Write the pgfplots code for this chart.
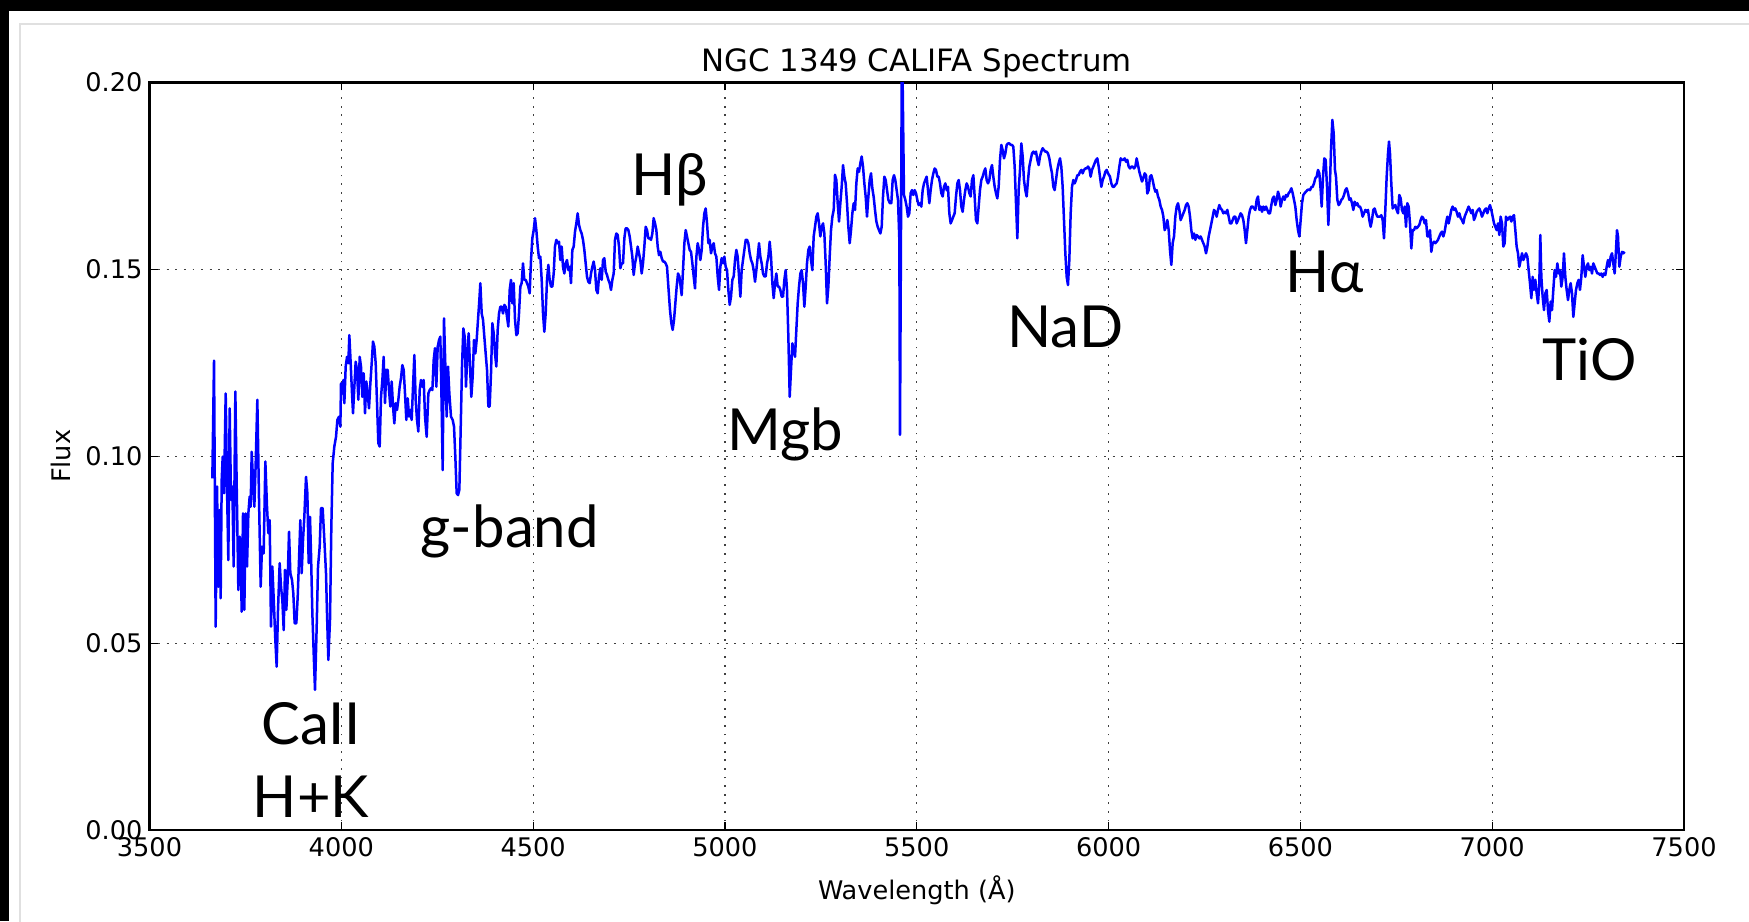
\documentclass[border=0pt]{standalone}
\usepackage{fontspec}
\setmainfont{DejaVu Sans}
\newfontfamily\gill{Lato}
\usepackage{pgfplots}
\pgfplotsset{compat=1.18}
\begin{document}
\begin{tikzpicture}[x=1pt,y=1pt]
\useasboundingbox (0,0) rectangle (874.5,460.5);
\fill[black] (0,0) rectangle (874.5,460.5);
\fill[white] (4.5,0) rectangle (874.5,455);
\draw[black!12,line width=0.6pt] (10,-2) -- (10,448.5) -- (880,448.5);
\begin{axis}[
  at={(74.75pt,45.5pt)}, anchor=south west,
  width=767.25pt, height=373.75pt, scale only axis,
  xmin=3500, xmax=7500, ymin=0, ymax=0.2,
  xtick={3500,4000,4500,5000,5500,6000,6500,7000,7500},
  ytick={0,0.05,0.1,0.15,0.2},
  scaled y ticks=false, scaled x ticks=false,
  tick align=inside, major tick length=4pt,
  tick style={black, line width=0.6pt},
  axis line style={black, line width=1.1pt},
  grid=major,
  major grid style={black!75, line width=0.6pt, dash pattern=on 0.9pt off 3.4pt},
  /pgf/number format/assume math mode=true,
  tick label style={font=\fontsize{12.8}{15}\selectfont},
  x tick label style={/pgf/number format/.cd, 1000 sep={}},
  y tick label style={/pgf/number format/.cd, fixed, fixed zerofill, precision=2},
  title={NGC 1349 CALIFA Spectrum},
  title style={font=\fontsize{15.4}{18}\selectfont, at={(axis description cs:0.5,1)}, anchor=base, yshift=-0.5pt},
  xlabel={Wavelength (Å)},
  xlabel style={font=\fontsize{12.8}{15}\selectfont, at={(axis description cs:0.5,0)}, anchor=base, yshift=-34.5pt},
  ylabel={Flux},
  ylabel style={font=\fontsize{12.8}{15}\selectfont, at={(axis description cs:-0.0577,0.5)}, anchor=center},
]
\addplot[blue, line width=1.25pt, line join=round, mark=none] coordinates {
(3663.8,0.0941)(3668.2,0.1256)(3672.5,0.0544)(3676.0,0.0919)(3679.5,0.0651)(3682.9,0.0856)(3685.5,0.0620)(3688.2,0.0937)
(3690.8,0.0999)(3694.2,0.0901)(3698.6,0.1168)(3702.0,0.0919)(3705.5,0.0722)(3709.0,0.1128)(3712.5,0.0883)(3716.0,0.0919)
(3719.4,0.0705)(3723.8,0.1173)(3727.2,0.0928)(3731.6,0.0642)(3735.1,0.0785)(3737.7,0.0740)(3740.3,0.0584)(3743.8,0.0847)
(3747.2,0.0589)(3750.7,0.0847)(3754.2,0.0705)(3757.7,0.0847)(3761.1,0.0892)(3763.7,0.0865)(3766.4,0.1012)(3769.8,0.0937)
(3773.3,0.0865)(3776.8,0.0981)(3781.1,0.1151)(3785.5,0.0883)(3789.8,0.0651)(3793.3,0.0758)(3797.6,0.0740)(3802.0,0.0986)
(3806.3,0.0865)(3809.8,0.0794)(3813.3,0.0829)(3816.7,0.0544)(3820.2,0.0705)(3824.6,0.0598)(3828.0,0.0508)(3831.5,0.0437)
(3835.0,0.0589)(3839.3,0.0714)(3842.8,0.0651)(3846.3,0.0615)(3849.8,0.0535)(3853.2,0.0696)(3856.7,0.0589)(3860.2,0.0669)
(3863.7,0.0798)(3867.1,0.0687)(3871.5,0.0669)(3874.9,0.0633)(3878.4,0.0553)(3882.8,0.0553)(3886.3,0.0624)(3889.7,0.0722)
(3893.2,0.0829)(3896.7,0.0687)(3900.2,0.0776)(3903.6,0.0838)(3908.0,0.0945)(3911.5,0.0901)(3914.9,0.0714)(3918.4,0.0838)
(3921.0,0.0740)(3924.5,0.0580)(3928.0,0.0473)(3931.4,0.0375)(3935.8,0.0544)(3939.3,0.0705)(3943.6,0.0758)(3947.1,0.0861)
(3951.4,0.0861)(3955.8,0.0776)(3960.1,0.0687)(3962.7,0.0580)(3966.2,0.0455)(3970.5,0.0562)(3974.0,0.0812)(3977.5,0.0981)
(3981.8,0.1026)(3986.2,0.1052)(3989.7,0.1097)(3994.0,0.1106)(3997.5,0.1079)(3999.2,0.1195)(4002.7,0.1168)(4005.3,0.1204)
(4007.9,0.1142)(4011.4,0.1240)(4014.9,0.1266)(4018.3,0.1249)(4020.9,0.1324)(4024.4,0.1249)(4027.9,0.1168)(4030.5,0.1115)
(4034.0,0.1186)(4037.4,0.1253)(4040.9,0.1231)(4044.4,0.1151)(4047.9,0.1266)(4051.3,0.1240)(4054.8,0.1159)(4058.3,0.1222)
(4061.8,0.1115)(4065.2,0.1200)(4068.7,0.1168)(4072.2,0.1128)(4075.7,0.1195)(4079.2,0.1249)(4082.6,0.1307)(4086.1,0.1293)
(4089.6,0.1249)(4093.1,0.1142)(4096.5,0.1035)(4100.0,0.1026)(4103.5,0.1159)(4107.0,0.1204)(4110.4,0.1266)(4113.9,0.1142)
(4117.4,0.1231)(4120.9,0.1231)(4124.3,0.1177)(4127.8,0.1133)(4131.3,0.1200)(4134.8,0.1133)(4138.2,0.1088)(4141.7,0.1142)
(4145.2,0.1124)(4148.7,0.1151)(4152.1,0.1186)(4155.6,0.1209)(4159.1,0.1244)(4162.6,0.1231)(4166.0,0.1168)(4169.5,0.1097)
(4173.0,0.1155)(4176.5,0.1106)(4179.9,0.1124)(4183.4,0.1097)(4186.9,0.1186)(4190.4,0.1271)(4193.8,0.1151)(4197.3,0.1097)
(4200.8,0.1066)(4204.3,0.1177)(4207.7,0.1204)(4211.2,0.1186)(4214.7,0.1204)(4218.2,0.1106)(4222.5,0.1052)(4226.9,0.1168)
(4230.3,0.1177)(4233.8,0.1182)(4237.3,0.1177)(4240.8,0.1258)(4244.2,0.1289)(4247.7,0.1186)(4251.2,0.1293)(4254.7,0.1311)
(4258.1,0.1320)(4261.6,0.1133)(4264.2,0.0963)(4267.7,0.1369)(4271.2,0.1240)(4274.6,0.1106)(4278.1,0.1240)(4281.6,0.1168)
(4285.9,0.1106)(4290.3,0.1097)(4293.8,0.1079)(4297.2,0.0999)(4300.7,0.0901)(4304.2,0.0896)(4307.7,0.0910)(4311.1,0.1070)
(4314.6,0.1240)(4318.1,0.1342)(4321.6,0.1320)(4325.0,0.1186)(4328.5,0.1275)(4332.0,0.1329)(4335.5,0.1240)(4338.9,0.1159)
(4342.4,0.1213)(4345.9,0.1311)(4349.4,0.1275)(4352.8,0.1311)(4356.3,0.1365)(4359.8,0.1418)(4362.4,0.1463)(4365.9,0.1382)
(4369.4,0.1365)(4372.8,0.1320)(4376.3,0.1275)(4379.8,0.1231)(4383.3,0.1133)(4386.7,0.1133)(4390.2,0.1222)(4393.7,0.1356)
(4397.2,0.1329)(4400.6,0.1275)(4404.1,0.1240)(4407.6,0.1338)(4411.1,0.1382)(4414.5,0.1400)(4418.0,0.1400)(4421.5,0.1382)
(4425.0,0.1405)(4428.4,0.1400)(4431.9,0.1373)(4435.4,0.1347)(4438.9,0.1445)(4442.3,0.1472)(4445.8,0.1409)(4449.3,0.1463)
(4452.8,0.1365)(4456.3,0.1324)(4459.7,0.1329)(4463.2,0.1382)(4466.7,0.1454)(4470.1,0.1463)(4473.6,0.1516)(4477.1,0.1472)
(4480.6,0.1472)(4484.1,0.1463)(4487.5,0.1454)(4491.0,0.1436)(4494.5,0.1525)(4497.9,0.1583)(4501.4,0.1605)(4504.9,0.1637)
(4508.4,0.1605)(4511.9,0.1561)(4515.3,0.1530)(4518.8,0.1534)(4522.3,0.1472)(4525.8,0.1382)(4529.2,0.1333)(4532.7,0.1382)
(4536.2,0.1472)(4539.7,0.1512)(4543.1,0.1472)(4546.6,0.1454)(4550.1,0.1454)(4553.6,0.1489)(4557.0,0.1561)(4560.5,0.1579)
(4564.0,0.1570)(4567.5,0.1574)(4570.9,0.1525)(4574.4,0.1561)(4577.9,0.1507)(4581.4,0.1489)(4584.8,0.1516)(4588.3,0.1525)
(4591.8,0.1498)(4595.3,0.1507)(4598.7,0.1463)(4602.2,0.1552)(4605.7,0.1561)(4609.2,0.1601)(4612.6,0.1623)(4616.1,0.1650)
(4619.6,0.1619)(4623.1,0.1605)(4626.5,0.1596)(4630.0,0.1579)(4633.5,0.1552)(4637.0,0.1516)(4640.5,0.1480)(4643.9,0.1467)
(4647.4,0.1463)(4650.9,0.1489)(4654.4,0.1507)(4657.8,0.1521)(4661.3,0.1498)(4664.8,0.1445)(4668.3,0.1436)(4671.7,0.1480)
(4675.2,0.1503)(4678.7,0.1472)(4682.2,0.1525)(4685.6,0.1530)(4689.1,0.1494)(4692.6,0.1485)(4696.1,0.1472)(4699.5,0.1463)
(4703.0,0.1445)(4706.5,0.1472)(4710.0,0.1489)(4713.4,0.1579)(4716.9,0.1596)(4720.4,0.1592)(4723.9,0.1561)(4727.3,0.1503)
(4730.8,0.1516)(4734.3,0.1516)(4737.8,0.1583)(4741.2,0.1610)(4744.7,0.1610)(4748.2,0.1605)(4751.7,0.1588)(4755.2,0.1561)
(4758.6,0.1534)(4762.1,0.1485)(4765.6,0.1516)(4769.0,0.1534)(4772.5,0.1561)(4776.0,0.1543)(4779.5,0.1525)(4783.0,0.1489)
(4786.4,0.1516)(4789.9,0.1561)(4793.4,0.1614)(4796.9,0.1605)(4800.3,0.1583)(4803.8,0.1583)(4807.3,0.1579)(4810.8,0.1596)
(4814.2,0.1637)(4817.7,0.1623)(4821.2,0.1605)(4824.7,0.1561)(4828.1,0.1538)(4831.6,0.1547)(4835.1,0.1530)(4838.6,0.1521)
(4842.0,0.1521)(4845.5,0.1516)(4849.0,0.1507)(4852.5,0.1454)(4856.8,0.1391)(4860.3,0.1356)(4863.8,0.1338)(4867.3,0.1365)
(4870.7,0.1409)(4874.2,0.1454)(4877.7,0.1489)(4881.2,0.1481)(4884.6,0.1454)(4887.2,0.1431)(4890.7,0.1498)(4894.2,0.1570)
(4897.7,0.1605)(4901.1,0.1588)(4904.6,0.1570)(4908.1,0.1552)(4911.6,0.1547)(4915.1,0.1516)(4918.5,0.1481)(4922.0,0.1449)
(4925.5,0.1534)(4929.0,0.1570)(4932.4,0.1552)(4935.9,0.1525)(4939.4,0.1552)(4942.9,0.1614)(4946.3,0.1650)(4949.8,0.1663)
(4953.3,0.1623)(4956.8,0.1570)(4960.2,0.1579)(4963.7,0.1543)(4967.2,0.1561)(4970.7,0.1570)(4974.1,0.1543)(4977.6,0.1534)
(4981.1,0.1481)(4984.6,0.1445)(4988.0,0.1507)(4991.5,0.1530)(4995.0,0.1516)(4998.5,0.1534)(5001.9,0.1507)(5005.4,0.1498)
(5008.9,0.1445)(5012.4,0.1405)(5015.8,0.1427)(5019.3,0.1472)(5022.8,0.1481)(5026.3,0.1525)(5029.7,0.1552)(5033.2,0.1534)
(5036.7,0.1481)(5040.2,0.1427)(5043.6,0.1498)(5047.1,0.1525)(5050.6,0.1552)(5054.1,0.1579)(5057.6,0.1579)(5061.0,0.1570)
(5064.5,0.1543)(5068.0,0.1525)(5071.5,0.1516)(5074.9,0.1498)(5078.4,0.1467)(5081.9,0.1498)(5085.4,0.1534)(5088.8,0.1570)
(5092.3,0.1534)(5095.8,0.1516)(5099.3,0.1489)(5102.7,0.1481)(5106.2,0.1481)(5109.7,0.1516)(5113.2,0.1534)(5116.6,0.1574)
(5120.1,0.1534)(5123.6,0.1463)(5127.1,0.1423)(5130.5,0.1463)(5134.0,0.1489)(5137.5,0.1454)(5141.0,0.1454)(5144.4,0.1445)
(5147.9,0.1427)(5151.4,0.1427)(5154.9,0.1472)(5158.3,0.1498)(5161.8,0.1445)(5165.3,0.1320)(5168.8,0.1159)(5172.2,0.1231)
(5175.7,0.1302)(5179.2,0.1284)(5182.7,0.1266)(5186.1,0.1338)(5189.6,0.1409)(5193.1,0.1454)(5196.6,0.1489)(5200.0,0.1498)
(5203.5,0.1463)(5207.0,0.1400)(5210.5,0.1454)(5213.9,0.1516)(5217.4,0.1552)(5220.9,0.1561)(5224.4,0.1525)(5227.8,0.1498)
(5231.3,0.1588)(5234.8,0.1614)(5238.3,0.1641)(5241.7,0.1650)(5245.2,0.1623)(5248.7,0.1588)(5252.2,0.1614)(5255.7,0.1623)
(5259.1,0.1596)(5262.6,0.1516)(5266.1,0.1409)(5269.6,0.1454)(5273.0,0.1534)(5276.5,0.1605)(5280.0,0.1641)(5283.5,0.1659)
(5286.9,0.1753)(5290.4,0.1739)(5293.9,0.1677)(5297.4,0.1628)(5300.8,0.1677)(5304.3,0.1721)(5307.8,0.1779)(5311.3,0.1748)
(5314.7,0.1730)(5318.2,0.1677)(5321.7,0.1614)(5325.2,0.1570)(5328.6,0.1605)(5332.1,0.1650)(5335.6,0.1677)(5339.1,0.1659)
(5342.5,0.1730)(5346.0,0.1770)(5349.5,0.1761)(5353.0,0.1784)(5356.4,0.1802)(5359.9,0.1775)(5363.4,0.1730)(5366.9,0.1694)
(5370.3,0.1641)(5373.8,0.1694)(5377.3,0.1739)(5380.8,0.1757)(5384.2,0.1717)(5387.7,0.1694)(5391.2,0.1659)(5394.7,0.1628)
(5398.1,0.1614)(5401.6,0.1605)(5405.1,0.1596)(5408.6,0.1614)(5412.0,0.1694)(5415.5,0.1748)(5419.0,0.1739)(5422.5,0.1712)
(5425.9,0.1686)(5430.2,0.1677)(5433.7,0.1677)(5437.2,0.1739)(5440.7,0.1752)(5444.1,0.1739)(5447.6,0.1712)(5451.1,0.1686)
(5454.6,0.1579)(5456.3,0.1057)(5461.5,0.2150)(5466.7,0.1699)(5470.2,0.1686)(5473.7,0.1668)(5477.2,0.1641)(5480.6,0.1650)
(5484.1,0.1704)(5487.6,0.1712)(5491.1,0.1699)(5494.5,0.1712)(5498.0,0.1704)(5501.5,0.1686)(5505.0,0.1672)(5508.4,0.1677)
(5511.9,0.1668)(5515.4,0.1712)(5518.9,0.1730)(5522.3,0.1739)(5525.8,0.1748)(5529.3,0.1712)(5532.8,0.1677)(5536.2,0.1712)
(5539.7,0.1739)(5543.2,0.1757)(5546.7,0.1770)(5550.1,0.1766)(5553.6,0.1748)(5557.1,0.1748)(5560.6,0.1730)(5564.0,0.1704)
(5567.5,0.1695)(5571.0,0.1721)(5574.5,0.1730)(5577.9,0.1712)(5581.4,0.1721)(5584.9,0.1650)(5588.4,0.1623)(5591.9,0.1632)
(5595.3,0.1641)(5598.8,0.1650)(5602.3,0.1695)(5605.8,0.1730)(5609.2,0.1739)(5612.7,0.1712)(5616.2,0.1668)(5619.7,0.1654)
(5623.1,0.1686)(5626.6,0.1712)(5630.1,0.1730)(5633.6,0.1721)(5637.0,0.1704)(5640.5,0.1695)(5644.0,0.1739)(5647.5,0.1752)
(5650.9,0.1695)(5654.4,0.1632)(5657.9,0.1623)(5661.4,0.1668)(5664.8,0.1712)(5668.3,0.1739)(5671.8,0.1748)(5675.3,0.1761)
(5678.7,0.1770)(5682.2,0.1739)(5685.7,0.1730)(5689.2,0.1739)(5692.6,0.1766)(5696.1,0.1779)(5699.6,0.1748)(5703.1,0.1721)
(5706.5,0.1704)(5710.0,0.1690)(5713.5,0.1721)(5717.0,0.1793)(5720.4,0.1833)(5723.9,0.1819)(5727.4,0.1797)(5730.9,0.1810)
(5734.4,0.1833)(5737.8,0.1837)(5741.3,0.1837)(5744.8,0.1833)(5748.3,0.1833)(5751.7,0.1828)(5755.2,0.1775)(5758.7,0.1677)
(5762.2,0.1583)(5765.6,0.1712)(5769.1,0.1766)(5772.6,0.1837)(5776.1,0.1802)(5779.5,0.1739)(5783.0,0.1712)(5786.5,0.1695)
(5790.0,0.1739)(5793.4,0.1775)(5796.9,0.1793)(5800.4,0.1810)(5803.9,0.1815)(5807.3,0.1810)(5810.8,0.1815)(5814.3,0.1793)
(5817.8,0.1779)(5821.2,0.1802)(5824.7,0.1815)(5828.2,0.1824)(5831.7,0.1819)(5835.1,0.1815)(5838.6,0.1815)(5842.1,0.1810)
(5845.6,0.1797)(5849.0,0.1775)(5852.5,0.1757)(5856.0,0.1721)(5859.5,0.1712)(5862.9,0.1739)(5866.4,0.1766)(5869.9,0.1784)
(5873.4,0.1797)(5876.8,0.1775)(5880.3,0.1721)(5883.8,0.1632)(5887.3,0.1543)(5890.8,0.1480)(5894.2,0.1458)(5897.7,0.1525)
(5901.2,0.1650)(5904.7,0.1721)(5908.1,0.1739)(5911.6,0.1730)(5915.1,0.1739)(5918.6,0.1752)(5922.0,0.1752)(5925.5,0.1761)
(5929.0,0.1766)(5932.5,0.1757)(5935.9,0.1766)(5939.4,0.1770)(5942.9,0.1770)(5946.4,0.1775)(5949.8,0.1770)(5953.3,0.1748)
(5956.8,0.1766)(5960.3,0.1775)(5963.7,0.1784)(5967.2,0.1793)(5970.7,0.1797)(5974.2,0.1775)(5977.6,0.1748)(5981.1,0.1721)
(5984.6,0.1739)(5988.1,0.1748)(5991.5,0.1761)(5995.0,0.1766)(5998.5,0.1757)(6003.7,0.1748)(6007.2,0.1730)(6010.7,0.1721)
(6014.2,0.1721)(6017.6,0.1726)(6021.1,0.1730)(6024.6,0.1748)(6028.1,0.1775)(6031.5,0.1797)(6035.0,0.1793)(6038.5,0.1793)
(6042.0,0.1797)(6045.4,0.1788)(6048.9,0.1793)(6052.4,0.1775)(6055.9,0.1770)(6059.3,0.1775)(6062.8,0.1775)(6066.3,0.1770)
(6069.8,0.1775)(6073.2,0.1797)(6076.7,0.1779)(6080.2,0.1761)(6083.7,0.1748)(6087.1,0.1735)(6090.6,0.1744)(6094.1,0.1757)
(6097.6,0.1752)(6101.0,0.1703)(6104.5,0.1712)(6108.0,0.1748)(6111.5,0.1752)(6114.9,0.1739)(6118.4,0.1721)(6121.9,0.1708)
(6125.4,0.1712)(6128.9,0.1695)(6132.3,0.1686)(6135.8,0.1668)(6139.3,0.1659)(6142.8,0.1641)(6146.2,0.1605)(6149.7,0.1614)
(6153.2,0.1632)(6156.7,0.1605)(6160.1,0.1552)(6163.6,0.1512)(6167.1,0.1570)(6170.6,0.1588)(6174.0,0.1641)(6177.5,0.1668)
(6181.0,0.1677)(6184.5,0.1659)(6187.9,0.1632)(6191.4,0.1641)(6194.9,0.1650)(6198.4,0.1659)(6201.8,0.1672)(6205.3,0.1677)
(6208.8,0.1668)(6212.3,0.1641)(6215.7,0.1605)(6219.2,0.1583)(6222.7,0.1596)(6226.2,0.1579)(6229.6,0.1592)(6233.1,0.1588)
(6236.6,0.1583)(6240.1,0.1588)(6243.5,0.1579)(6247.0,0.1570)(6250.5,0.1561)(6254.0,0.1543)(6257.5,0.1561)(6260.9,0.1588)
(6264.4,0.1605)(6267.9,0.1623)(6271.4,0.1641)(6274.8,0.1659)(6278.3,0.1654)(6281.8,0.1641)(6285.3,0.1659)(6288.7,0.1672)
(6292.2,0.1663)(6295.7,0.1659)(6299.2,0.1650)(6302.6,0.1654)(6306.1,0.1650)(6309.6,0.1659)(6313.1,0.1641)(6316.5,0.1623)
(6320.0,0.1623)(6323.5,0.1632)(6327.0,0.1641)(6330.4,0.1641)(6333.9,0.1623)(6337.4,0.1632)(6340.9,0.1641)(6344.3,0.1650)
(6347.8,0.1645)(6351.3,0.1632)(6354.8,0.1605)(6358.2,0.1570)(6361.7,0.1605)(6365.2,0.1641)(6368.7,0.1659)(6372.2,0.1668)
(6375.6,0.1668)(6379.1,0.1663)(6382.6,0.1659)(6386.1,0.1686)(6389.5,0.1695)(6393.0,0.1659)(6396.5,0.1668)(6400.0,0.1654)
(6403.4,0.1668)(6406.9,0.1659)(6410.4,0.1668)(6413.9,0.1659)(6417.3,0.1650)(6420.8,0.1650)(6424.3,0.1672)(6427.8,0.1690)
(6431.2,0.1695)(6434.7,0.1672)(6438.2,0.1686)(6441.7,0.1708)(6445.1,0.1695)(6448.6,0.1668)(6452.1,0.1686)(6455.6,0.1695)
(6459.0,0.1686)(6462.5,0.1699)(6466.0,0.1695)(6469.5,0.1704)(6472.9,0.1708)(6476.4,0.1717)(6479.9,0.1704)(6483.4,0.1686)
(6486.8,0.1668)(6490.3,0.1632)(6493.8,0.1605)(6497.3,0.1588)(6500.7,0.1632)(6504.2,0.1677)(6507.7,0.1699)(6511.2,0.1704)
(6514.6,0.1708)(6518.1,0.1712)(6521.6,0.1714)(6525.1,0.1712)(6528.6,0.1720)(6532.0,0.1721)(6535.5,0.1730)(6539.0,0.1744)
(6542.5,0.1748)(6545.9,0.1766)(6549.4,0.1757)(6552.9,0.1712)(6555.5,0.1668)(6559.0,0.1748)(6562.4,0.1797)(6565.9,0.1793)
(6569.4,0.1721)(6572.9,0.1619)(6576.3,0.1704)(6579.8,0.1819)(6583.3,0.1900)(6586.8,0.1864)(6590.2,0.1766)(6592.8,0.1748)
(6596.3,0.1686)(6599.8,0.1672)(6603.2,0.1677)(6606.7,0.1686)(6610.2,0.1690)(6613.7,0.1699)(6617.1,0.1712)(6620.6,0.1717)
(6624.1,0.1704)(6627.6,0.1686)(6631.0,0.1690)(6634.5,0.1677)(6638.0,0.1659)(6641.5,0.1681)(6644.9,0.1672)(6648.4,0.1677)
(6651.9,0.1668)(6655.4,0.1668)(6658.8,0.1659)(6662.3,0.1641)(6665.8,0.1650)(6669.3,0.1659)(6672.7,0.1654)(6676.2,0.1659)
(6679.7,0.1632)(6683.2,0.1614)(6686.6,0.1632)(6690.1,0.1659)(6693.6,0.1663)(6697.1,0.1650)(6700.5,0.1641)(6704.0,0.1641)
(6707.5,0.1641)(6711.0,0.1645)(6714.5,0.1632)(6717.9,0.1583)(6721.4,0.1659)(6724.9,0.1748)(6728.4,0.1810)(6731.0,0.1842)
(6733.6,0.1810)(6737.0,0.1730)(6740.5,0.1663)(6744.0,0.1668)(6747.5,0.1672)(6750.9,0.1659)(6754.4,0.1650)(6757.9,0.1699)
(6761.4,0.1690)(6764.8,0.1659)(6768.3,0.1650)(6771.8,0.1668)(6775.3,0.1614)(6778.7,0.1677)(6782.2,0.1668)(6785.7,0.1623)
(6789.2,0.1556)(6792.6,0.1605)(6796.1,0.1605)(6799.6,0.1614)(6803.1,0.1610)(6806.5,0.1614)(6810.0,0.1619)(6813.5,0.1632)
(6817.0,0.1641)(6820.5,0.1637)(6823.9,0.1623)(6827.4,0.1632)(6830.9,0.1588)(6834.4,0.1588)(6837.8,0.1605)(6841.3,0.1547)
(6844.8,0.1570)(6848.3,0.1574)(6851.7,0.1570)(6855.2,0.1574)(6858.7,0.1579)(6862.2,0.1588)(6865.6,0.1596)(6869.1,0.1601)
(6872.6,0.1588)(6876.1,0.1601)(6879.5,0.1623)(6883.0,0.1641)(6886.5,0.1623)(6890.0,0.1641)(6893.4,0.1659)(6896.9,0.1668)
(6900.4,0.1659)(6903.9,0.1663)(6907.3,0.1654)(6910.8,0.1641)(6914.3,0.1650)(6917.8,0.1637)(6921.2,0.1632)(6924.7,0.1623)
(6928.2,0.1641)(6931.7,0.1650)(6935.1,0.1659)(6938.6,0.1668)(6942.1,0.1659)(6945.6,0.1650)(6949.1,0.1659)(6952.5,0.1632)
(6956.0,0.1641)(6959.5,0.1654)(6963.0,0.1659)(6966.4,0.1663)(6969.9,0.1654)(6973.4,0.1641)(6976.9,0.1650)(6980.3,0.1659)
(6983.8,0.1663)(6987.3,0.1650)(6990.8,0.1663)(6994.2,0.1672)(6997.7,0.1659)(7001.2,0.1641)(7004.7,0.1623)(7008.1,0.1614)
(7011.6,0.1605)(7015.1,0.1623)(7018.6,0.1592)(7022.0,0.1641)(7025.5,0.1623)(7029.0,0.1561)(7032.5,0.1570)(7035.9,0.1641)
(7039.4,0.1632)(7042.9,0.1637)(7046.4,0.1641)(7049.8,0.1628)(7053.3,0.1641)(7056.8,0.1645)(7060.3,0.1605)(7063.7,0.1561)
(7067.2,0.1543)(7070.7,0.1507)(7074.2,0.1525)(7077.7,0.1543)(7081.1,0.1525)(7084.6,0.1534)(7088.1,0.1543)(7091.6,0.1534)
(7095.0,0.1498)(7098.5,0.1463)(7102.0,0.1423)(7105.5,0.1480)(7108.9,0.1445)(7112.4,0.1472)(7115.9,0.1436)(7119.4,0.1409)
(7122.8,0.1463)(7125.4,0.1592)(7128.1,0.1480)(7131.5,0.1427)(7135.0,0.1391)(7138.5,0.1436)(7142.0,0.1445)(7145.4,0.1391)
(7148.9,0.1360)(7152.4,0.1414)(7155.9,0.1391)(7159.3,0.1445)(7162.8,0.1498)(7166.3,0.1480)(7169.8,0.1516)(7173.2,0.1489)
(7176.7,0.1498)(7180.2,0.1454)(7183.7,0.1480)(7187.1,0.1543)(7190.6,0.1480)(7194.1,0.1445)(7197.6,0.1418)(7201.0,0.1445)
(7204.5,0.1463)(7208.0,0.1436)(7211.5,0.1373)(7214.9,0.1409)(7218.4,0.1445)(7221.9,0.1463)(7225.4,0.1472)(7228.8,0.1445)
(7232.3,0.1480)(7235.8,0.1538)(7239.3,0.1507)(7242.7,0.1480)(7246.2,0.1507)(7249.7,0.1516)(7253.2,0.1498)(7256.6,0.1507)
(7260.1,0.1489)(7263.6,0.1516)(7267.1,0.1507)(7270.6,0.1498)(7274.0,0.1489)(7277.5,0.1489)(7281.0,0.1485)(7284.5,0.1489)
(7287.9,0.1480)(7291.4,0.1489)(7294.9,0.1485)(7298.4,0.1507)(7301.8,0.1525)(7305.3,0.1507)(7308.8,0.1534)(7312.3,0.1543)
(7315.7,0.1516)(7319.2,0.1489)(7322.7,0.1552)(7325.3,0.1605)(7327.9,0.1588)(7331.4,0.1507)(7334.9,0.1534)(7338.3,0.1547)
(7341.8,0.1543)(7345.3,0.1547)
};
\node[anchor=base, font=\gill\fontsize{29}{32}\selectfont, inner sep=0pt] at (axis cs:3921,0.0230) {CaII};
\node[anchor=base, font=\gill\fontsize{29}{32}\selectfont, inner sep=0pt] at (axis cs:3921,0.0033) {H+K};
\node[anchor=base, font=\gill\fontsize{29}{32}\selectfont, inner sep=0pt] at (axis cs:4439,0.0755) {g-band};
\node[anchor=base, font=\gill\fontsize{29}{32}\selectfont, inner sep=0pt] at (axis cs:4855,0.1698) {Hβ};
\node[anchor=base, font=\gill\fontsize{29}{32}\selectfont, inner sep=0pt] at (axis cs:5157,0.1015) {Mgb};
\node[anchor=base, font=\gill\fontsize{29}{32}\selectfont, inner sep=0pt] at (axis cs:5887,0.1290) {NaD};
\node[anchor=base, font=\gill\fontsize{29}{32}\selectfont, inner sep=0pt] at (axis cs:6564,0.1439) {Hα};
\node[anchor=base, font=\gill\fontsize{29}{32}\selectfont, inner sep=0pt] at (axis cs:7254,0.1203) {TiO};
\end{axis}
\end{tikzpicture}
\end{document}
